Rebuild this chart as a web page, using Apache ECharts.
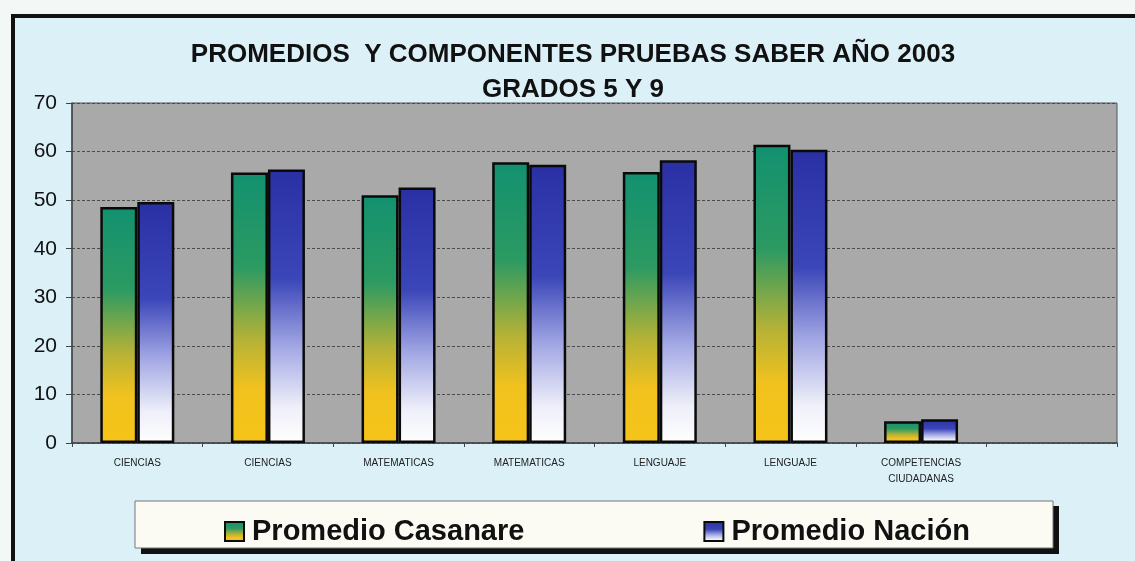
<!DOCTYPE html>
<html lang="es">
<head>
    <meta charset="UTF-8">
    <title>Promedios Pruebas Saber 2003</title>
    <script src="https://cdn.jsdelivr.net/npm/echarts@6/dist/echarts.min.js"></script>
    <style>
        html, body {
            margin: 0;
            padding: 0;
            background-color: #f3f7f6;
        }
        #chart {
            width: 1135px;
            height: 561px;
        }
    </style>
</head>
<body>
<div id="chart"></div>
<script>
    // categorias (la ultima queda vacia como en el original)
    var categorias = ['CIENCIAS', 'CIENCIAS', 'MATEMATICAS', 'MATEMATICAS', 'LENGUAJE', 'LENGUAJE', 'COMPETENCIAS\nCIUDADANAS', ''];
    var casanare = [48.6, 55.7, 51.0, 57.8, 55.8, 61.4, 4.5, null];
    var nacion = [49.6, 56.3, 52.6, 57.3, 58.2, 60.4, 4.9, null];
    var yTicks = [0, 10, 20, 30, 40, 50, 60, 70];

    var gradCasanare = new echarts.graphic.LinearGradient(0, 0, 0, 1, [
        { offset: 0, color: '#129170' },
        { offset: 0.35, color: '#2c9a62' },
        { offset: 0.62, color: '#b6b236' },
        { offset: 0.8, color: '#f1c21e' },
        { offset: 1, color: '#f6c418' }
    ]);
    var gradNacion = new echarts.graphic.LinearGradient(0, 0, 0, 1, [
        { offset: 0, color: '#2a30a4' },
        { offset: 0.4, color: '#3b46b8' },
        { offset: 0.65, color: '#a3a8e4' },
        { offset: 0.87, color: '#eeeff9' },
        { offset: 1, color: '#ffffff' }
    ]);

    var chart = echarts.init(document.getElementById('chart'));

    var option = {
        backgroundColor: '#f3f7f6',
        animation: false,
        title: {
            text: 'PROMEDIOS  Y COMPONENTES PRUEBAS SABER AÑO 2003\nGRADOS 5 Y 9',
            left: 568,
            top: 32,
            textAlign: 'center',
            textStyle: {
                fontFamily: 'Liberation Sans, Arial',
                fontSize: 26,
                fontWeight: 'bold',
                color: '#111',
                lineHeight: 35
            }
        },
        graphic: [
            // marco exterior del grafico
            {
                type: 'rect',
                z: -10,
                shape: { x: 13, y: 16, width: 1140, height: 560 },
                style: { fill: '#dcf0f8', stroke: '#111', lineWidth: 4 }
            },
            // sombra de la leyenda
            {
                type: 'rect',
                z: -5,
                shape: { x: 141, y: 506, width: 918, height: 48 },
                style: { fill: '#111' }
            },
            // caja de la leyenda
            {
                type: 'rect',
                z: -4,
                shape: { x: 135, y: 501, width: 918, height: 47 },
                style: { fill: '#fbfbf3', stroke: '#777', lineWidth: 1 }
            }
        ],
        legend: {
            data: ['Promedio Casanare', 'Promedio Nación'],
            left: 219,
            top: 512,
            itemWidth: 19,
            itemHeight: 19,
            itemGap: 179,
            icon: 'rect',
            textStyle: {
                fontFamily: 'Liberation Sans, Arial',
                fontSize: 29,
                fontWeight: 'bold',
                color: '#111',
                padding: [0, 0, 0, 3]
            }
        },
        grid: {
            left: 72,
            right: 18,
            top: 103,
            bottom: 118,
            show: true,
            backgroundColor: '#a9a9a9',
            borderColor: '#555',
            borderWidth: 1
        },
        xAxis: {
            type: 'category',
            data: categorias,
            axisLine: { lineStyle: { color: '#444', width: 1.5 } },
            axisTick: { show: true, alignWithLabel: false, length: 4, lineStyle: { color: '#444' } },
            axisLabel: {
                interval: 0,
                color: '#222',
                fontFamily: 'Liberation Sans, Arial',
                fontSize: 10,
                lineHeight: 16,
                margin: 12
            }
        },
        yAxis: {
            type: 'value',
            min: yTicks[0],
            max: yTicks[yTicks.length - 1],
            interval: 10,
            axisLine: { show: true, lineStyle: { color: '#444', width: 1.5 } },
            axisTick: { show: true, length: 6, lineStyle: { color: '#444' } },
            axisLabel: {
                color: '#111',
                fontFamily: 'Liberation Sans, Arial',
                fontSize: 21,
                margin: 15
            },
            splitLine: { lineStyle: { color: '#4a4a4a', type: [3, 2], width: 1 } }
        },
        series: [
            {
                name: 'Promedio Casanare',
                type: 'bar',
                data: casanare,
                barWidth: 37,
                barGap: '0%',
                itemStyle: { color: gradCasanare, borderColor: '#0a0a0a', borderWidth: 2.5 }
            },
            {
                name: 'Promedio Nación',
                type: 'bar',
                data: nacion,
                barWidth: 37,
                itemStyle: { color: gradNacion, borderColor: '#0a0a0a', borderWidth: 2.5 }
            }
        ]
    };

    chart.setOption(option);
</script>
</body>
</html>
